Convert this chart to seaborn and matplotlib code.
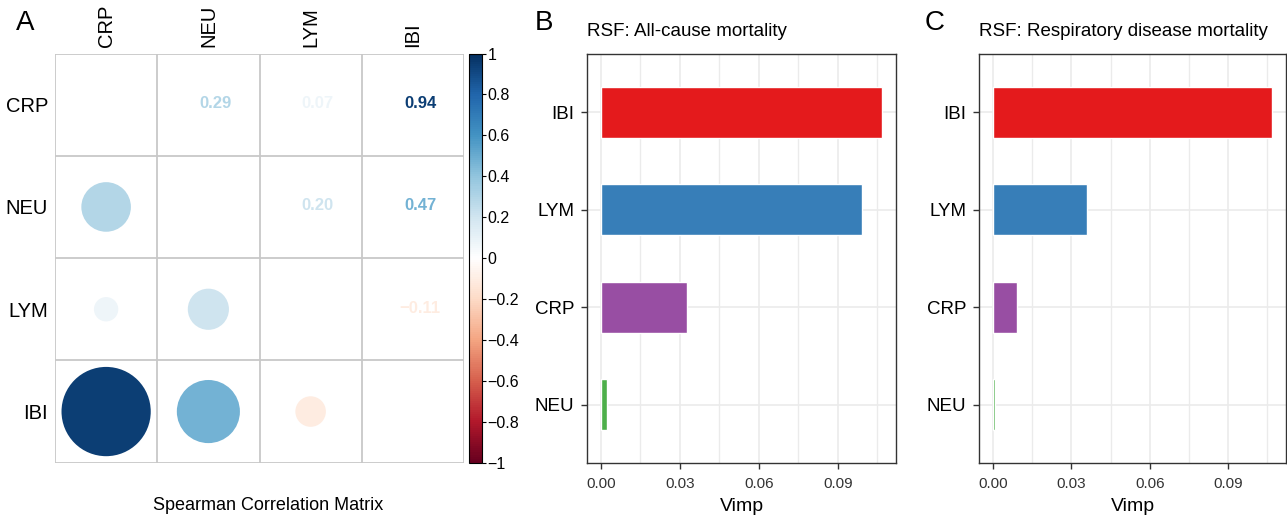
import numpy as np
import pandas as pd
import matplotlib
matplotlib.use("Agg")
import matplotlib.pyplot as plt
import seaborn as sns
from matplotlib.colors import LinearSegmentedColormap, Normalize
from matplotlib.patches import Circle
from matplotlib.ticker import MultipleLocator
import matplotlib.colorbar as mcolorbar

# ===============================
# DATA
# ===============================
MARKERS = ["CRP", "NEU", "LYM", "IBI"]
CORR = [
    [1.00, 0.29, 0.07, 0.94],
    [0.29, 1.00, 0.20, 0.47],
    [0.07, 0.20, 1.00, -0.11],
    [0.94, 0.47, -0.11, 1.00],
]

VIMP_VARS = ["IBI", "LYM", "CRP", "NEU"]
VIMP_ALL = [0.1068, 0.0992, 0.0328, 0.0024]
VIMP_RESP = [0.1068, 0.0358, 0.0092, 0.0009]
BAR_COLORS = ["#E41A1C", "#377EB8", "#984EA3", "#4DAF4A"]

TITLE_B = "RSF: All-cause mortality"
TITLE_C = "RSF: Respiratory disease mortality"

# corrplot RdBu ramp
RDBU = ["#67001F", "#B2182B", "#D6604D", "#F4A582", "#FDDBC7", "#FFFFFF",
        "#D1E5F0", "#92C5DE", "#4393C3", "#2166AC", "#053061"]

# ===============================
# SETUP
# ===============================
sns.set_theme(style="white")
plt.rcParams["font.family"] = ["Liberation Sans", "DejaVu Sans"]

W, H = 1287, 516
fig = plt.figure(figsize=(W / 100, H / 100), dpi=100)


def px_axes(x0, y0, x1, y1):
    return fig.add_axes([x0 / W, 1 - y1 / H, (x1 - x0) / W, (y1 - y0) / H])


cmap = LinearSegmentedColormap.from_list("corr_rdbu", RDBU, N=200)
norm = Normalize(vmin=-1, vmax=1)

# ===============================
# PANEL A: CORRELATION MATRIX
# ===============================
axA = px_axes(55, 53.5, 464, 462.7)
n = len(MARKERS)
corr = np.array(CORR)

for k in range(n + 1):
    axA.axhline(k, color="#C8C8C8", lw=1.3, zorder=1)
    axA.axvline(k, color="#C8C8C8", lw=1.3, zorder=1)

for i in range(n):
    for j in range(n):
        r = corr[i, j]
        if i > j:
            rad = 0.45 * np.sqrt(abs(r))
            axA.add_patch(Circle((j + 0.5, i + 0.5), rad, facecolor=cmap(norm(r)),
                                 edgecolor="none", zorder=2))
        elif i < j:
            # corrplot puts the numbers a little right of the cell centre
            axA.text(j + 0.57, i + 0.49, f"{r:.2f}".replace("-", "\u2212"),
                     ha="center", va="center", fontsize=12, fontweight="bold",
                     color=cmap(norm(r)), zorder=3)

axA.set_xlim(0, n)
axA.set_ylim(n, 0)
axA.set_xticks(np.arange(n) + 0.5)
axA.set_yticks(np.arange(n) + 0.5)
axA.set_xticklabels(MARKERS, rotation=90, fontsize=14.5, color="black")
axA.set_yticklabels(MARKERS, fontsize=14.5, color="black")
axA.xaxis.tick_top()
axA.tick_params(length=0, pad=5)
for s in axA.spines.values():
    s.set_visible(False)

# colorbar
axCB = px_axes(469, 53.5, 482, 462.7)
cb = mcolorbar.ColorbarBase(axCB, cmap=cmap, norm=norm, orientation="vertical")
cb_ticks = np.round(np.arange(-1, 1.01, 0.2), 1)
cb.set_ticks(cb_ticks)
cb.set_ticklabels([("%g" % t).replace("-", "\u2212") if abs(t) > 1e-9 else "0" for t in cb_ticks])
axCB.tick_params(length=3, width=0.8, labelsize=11.5, pad=1, color="black", labelcolor="black")
cb.outline.set_edgecolor("black")
cb.outline.set_linewidth(0.8)

fig.text(268 / W, 1 - 505 / H, "Spearman Correlation Matrix", ha="center", va="center",
         fontsize=13, color="black")


# ===============================
# PANELS B, C: VARIABLE IMPORTANCE
# ===============================
def vimp_panel(ax, values, title):
    df = pd.DataFrame({"var": VIMP_VARS, "vimp": values})
    sns.barplot(data=df, x="vimp", y="var", hue="var", palette=BAR_COLORS,
                order=VIMP_VARS, hue_order=VIMP_VARS, width=0.52, orient="h",
                legend=False, saturation=1, ax=ax, zorder=3)
    m = max(values)
    ax.set_xlim(-0.05 * m, 1.05 * m)
    ax.set_ylim(len(VIMP_VARS) - 0.4, -0.6)
    ax.xaxis.set_major_locator(MultipleLocator(0.03))
    ax.xaxis.set_minor_locator(MultipleLocator(0.015))
    ax.xaxis.set_major_formatter(plt.FuncFormatter(lambda v, p: f"{v:.2f}"))
    ax.grid(True, which="major", color="#EBEBEB", lw=1.2, zorder=0)
    ax.grid(True, which="minor", axis="x", color="#EBEBEB", lw=1.0, zorder=0)
    ax.set_axisbelow(True)
    for s in ax.spines.values():
        s.set_visible(True)
        s.set_color("#333333")
        s.set_linewidth(1.0)
    ax.tick_params(axis="both", which="major", length=4, width=1, color="#333333",
                   direction="out", bottom=True, left=True, pad=3)
    ax.tick_params(axis="both", which="minor", length=0)
    ax.tick_params(axis="x", labelsize=11, labelcolor="#333333", pad=6)
    ax.tick_params(axis="y", labelsize=13.5, labelcolor="black", pad=5)
    ax.set_ylabel("")
    ax.set_xlabel("Vimp", fontsize=14, color="black", labelpad=5)
    ax.set_title(title, loc="left", fontsize=13.5, color="black", pad=13)


axB = px_axes(587, 54, 896, 463)
vimp_panel(axB, VIMP_ALL, TITLE_B)
axC = px_axes(979, 54, 1286, 463)
vimp_panel(axC, VIMP_RESP, TITLE_C)

# panel letters
for x, letter in [(25, "A"), (544, "B"), (935, "C")]:
    fig.text(x / W, 1 - 23 / H, letter, ha="center", va="center", fontsize=20, color="black")

fig.savefig("out.png", dpi=100)
